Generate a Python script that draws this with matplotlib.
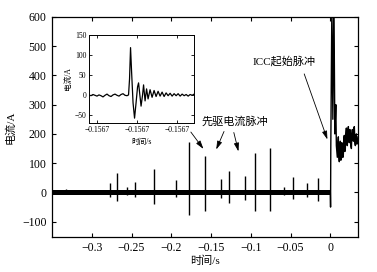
import matplotlib
matplotlib.use("Agg")
import matplotlib.pyplot as plt
import numpy as np

plt.rcParams["font.family"] = ["Liberation Serif", "Noto Sans CJK SC"]
plt.rcParams["axes.unicode_minus"] = True

# precursor pulses: time (s), positive peak (A), negative peak (A)
pulse_t = [-0.333, -0.277, -0.268, -0.256, -0.246, -0.222, -0.194, -0.178, -0.157,
           -0.138, -0.128, -0.107, -0.095, -0.076, -0.058, -0.047, -0.029, -0.016]
pulse_hi = [12, 31, 65, 20, 35, 79, 41, 172, 124, 45, 72, 55, 134, 152, 20, 52, 31, 48]
pulse_lo = [-5, -17, -28, -8, -15, -38, -15, -76, -62, -20, -35, -25, -62, -62, -8, -24, -17, -28]

# background noise band before the ICC (A)
noise_t = [-0.35, 0.0]
noise_amp = 9

# ICC initial pulse
icc_t = [0.0, 0.0003, 0.0006, 0.0019, 0.0032, 0.0042, 0.0050, 0.0057, 0.0069, 0.0076,
         0.0088, 0.0095, 0.0101, 0.0107, 0.0113, 0.0120, 0.0126, 0.0132, 0.0139, 0.0145,
         0.0151, 0.0158, 0.0164, 0.0170, 0.0176, 0.0183, 0.0189, 0.0195, 0.0202, 0.0208,
         0.0214, 0.0221, 0.0227, 0.0233, 0.0239, 0.0246, 0.0252, 0.0258, 0.0265, 0.0271,
         0.0277, 0.0284, 0.0290, 0.0296, 0.0302, 0.0309, 0.0315, 0.0321, 0.0328, 0.0334,
         0.0340, 0.0350]
icc_i = [0, -50, 155, 620, 250, 620, 470, 200, 300, 160,
         120, 170, 190, 125, 105, 150, 175, 110, 115, 170, 160, 120, 130, 185, 195, 140,
         150, 200, 220, 165, 160, 210, 225, 175, 170, 215, 205, 160, 150, 200, 215, 180,
         175, 220, 225, 170, 160, 195, 200, 165, 170, 190]

# zoomed precursor pulse (offset from -0.15674 s, in microseconds)
zoom_us = [-8, -6, -4, -2, 0, 2, 4, 6, 8, 10, 12, 14, 16, 18, 20, 22, 24, 26, 28, 30,
           31.5, 32.5, 33.5, 34.5, 36, 37.5, 39, 40.5, 41.5, 43, 44, 45.5, 46.5, 48, 49.5,
           51, 53, 55, 57, 59, 61, 63, 65, 67, 69, 71, 73, 75, 77, 79, 81, 83, 85, 87,
           89, 91, 93, 95, 97]
zoom_i = [0, -2, 1, -1, -3, 0, -2, -5, -1, 2, -2, -4, 0, 2, -1, -3, 1, 3, -1, -2,
          0, 40, 118, 60, -20, -58, -20, 20, 30, -5, -28, 0, 25, -15, 15,
          -10, 13, -6, 11, -4, 9, -3, 7, -4, 5, -2, 4, -3, 3, -2, 3, -3, 2, -2,
          1, -3, 1, -1, 2]
zoom_ticks = [-0.15674, -0.15670, -0.15666]

x_ticks = [-0.3, -0.25, -0.2, -0.15, -0.1, -0.05, 0]
x_labels = ["\u22120.3", "\u22120.25", "\u22120.2", "\u22120.15", "\u22120.1", "\u22120.05", "0"]
y_ticks = [-100, 0, 100, 200, 300, 400, 500, 600]

fig = plt.figure(figsize=(3.77, 2.72), dpi=100)
ax = fig.add_axes([0.138, 0.129, 0.812, 0.809])

ax.fill_between(noise_t, -noise_amp, noise_amp, color="black", lw=0)
ax.vlines(pulse_t, pulse_lo, pulse_hi, color="black", lw=1.0)
ax.plot(icc_t, icc_i, color="black", lw=1.0)

ax.set_xlim(-0.35, 0.035)
ax.set_ylim(-152, 600)
ax.set_xticks(x_ticks)
ax.set_xticklabels(x_labels)
ax.set_yticks(y_ticks)
ax.tick_params(direction="in", length=3, width=0.8, top=True, right=True,
               labelsize=8.5, pad=4)
for s in ax.spines.values():
    s.set_linewidth(0.9)
ax.set_xlabel("时间/s", fontsize=8, labelpad=1)
ax.set_ylabel("电流/A", fontsize=8, labelpad=5)

# annotations
ax.text(-0.058, 448, "ICC起始脉冲", fontsize=8, ha="center", va="center")
ax.annotate("", xy=(-0.0025, 172), xytext=(-0.034, 414),
            arrowprops=dict(arrowstyle="-|>,head_length=0.5,head_width=0.15", color="black", lw=0.6))
ax.text(-0.1197, 241, "先驱电流脉冲", fontsize=8, ha="center", va="center")
for xs, ys, xt, yt in [(-0.1775, 214, -0.1575, 141),
                       (-0.1323, 217, -0.1449, 138),
                       (-0.1222, 214, -0.1147, 131)]:
    ax.annotate("", xy=(xt, yt), xytext=(xs, ys),
                arrowprops=dict(arrowstyle="-|>,head_length=0.5,head_width=0.15", color="black", lw=0.6))

# inset
axi = fig.add_axes([0.236, 0.548, 0.279, 0.324])
zoom_t = [-0.15674 + u * 1e-6 for u in zoom_us]
axi.plot(zoom_t, zoom_i, color="black", lw=0.9)
axi.set_xlim(-0.15674 - 8e-6, -0.15674 + 97e-6)
axi.set_ylim(-70, 150)
axi.set_xticks(zoom_ticks)
axi.set_xticklabels(["\u22120.1567"] * 3)
axi.set_yticks([-50, 0, 50, 100, 150])
axi.set_yticklabels(["\u221250", "0", "50", "100", "150"])
axi.tick_params(direction="in", length=2, width=0.6, top=True, right=True,
                labelsize=5.5, pad=2)
for s in axi.spines.values():
    s.set_linewidth(0.7)
axi.set_xlabel("时间/s", fontsize=5.5, labelpad=3)
axi.set_ylabel("电流/A", fontsize=5.5, labelpad=2)

fig.savefig("out.png", dpi=100)
